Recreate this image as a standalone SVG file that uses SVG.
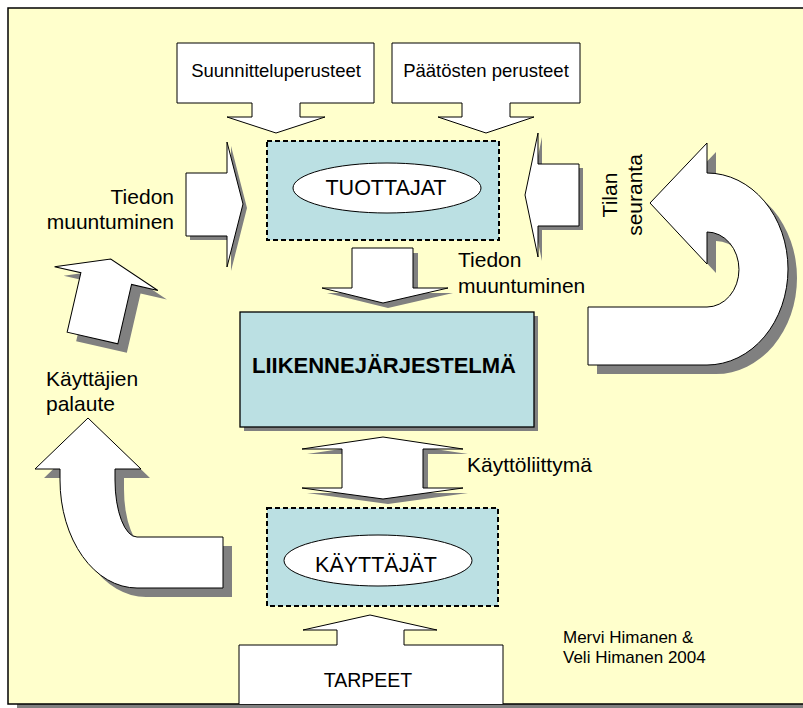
<svg xmlns="http://www.w3.org/2000/svg" width="803" height="708" viewBox="0 0 803 708">
<defs>
<style>
text{font-family:"Liberation Sans",Arial,Helvetica,sans-serif;fill:#000}
.sh{fill:#808080}
.wf{fill:#fff;stroke:#000;stroke-width:1;stroke-linejoin:miter}
.blue{fill:#BBE0E3;stroke:#000;stroke-width:1.3}
.dash{fill:#BBE0E3;stroke:#000;stroke-width:2;stroke-dasharray:5 3}
.ell{fill:#fff;stroke:#000;stroke-width:1}
.lbl{font-size:21px}
</style>
</defs>
<rect x="0" y="0" width="803" height="708" fill="#fff"/>
<g id="frame">
<rect x="17" y="17" width="800" height="697" class="sh"/>
<rect x="8" y="8" width="800" height="696" fill="#FFFFCC" stroke="#000" stroke-width="1.5"/>
</g>
<g id="connectors">
<g id="arrow-down-tuottajat">
<path class="sh" transform="translate(5,5)" d="M352 248 L413 248 L413 288 L448 288 L383 303 L322 288 L352 288 Z"/>
<path class="wf" d="M352 248 L413 248 L413 288 L448 288 L383 303 L322 288 L352 288 Z"/>
</g>
<g id="arrow-left-in">
<path class="sh" transform="translate(4,4)" d="M186 173 L227 173 L227 142 L243 204 L227 267 L227 236 L186 236 Z"/>
<path class="wf" d="M186 173 L227 173 L227 142 L243 204 L227 267 L227 236 L186 236 Z"/>
</g>
<g id="arrow-right-in">
<path class="sh" transform="translate(4,4)" d="M579 164 L538 164 L538 133 L525 195 L538 257 L538 226 L579 226 Z"/>
<path class="wf" d="M579 164 L538 164 L538 133 L525 195 L538 257 L538 226 L579 226 Z"/>
</g>
<g id="arrow-u-turn">
<path class="sh" transform="translate(9,9)" d="M650 203 L707 143 L707 173 A81 96 0 0 1 707 365 L588 365 L588 307 L707 307 A32 37.5 0 0 0 707 232 L707 264 Z"/>
<path class="wf" d="M650 203 L707 143 L707 173 A81 96 0 0 1 707 365 L588 365 L588 307 L707 307 A32 37.5 0 0 0 707 232 L707 264 Z"/>
</g>
<g id="arrow-tilted-up">
<path class="sh" transform="translate(101.5,347) rotate(13)" d="M-26 0 L-26 -61 L-53 -61 L0 -81 L53 -61 L26 -61 L26 0 Z"/>
<path class="wf" transform="translate(92.5,338) rotate(13)" d="M-26 0 L-26 -61 L-53 -61 L0 -81 L53 -61 L26 -61 L26 0 Z"/>
</g>
<g id="arrow-curved-up">
<path class="sh" transform="translate(9,9)" d="M88 418 L141 469 L115 469 L115 480 A22 57 0 0 0 137 537 L223 537 L223 588 L137 588 A77 108 0 0 1 60 480 L60 469 L35 469 Z"/>
<path class="wf" d="M88 418 L141 469 L115 469 L115 480 A22 57 0 0 0 137 537 L223 537 L223 588 L137 588 A77 108 0 0 1 60 480 L60 469 L35 469 Z"/>
</g>
<g id="arrow-double">
<path class="sh" transform="translate(5,5)" d="M383 437 L463 449 L423 449 L423 488 L463 488 L383 499 L302 488 L342 488 L342 449 L302 449 Z"/>
<path class="wf" d="M383 437 L463 449 L423 449 L423 488 L463 488 L383 499 L302 488 L342 488 L342 449 L302 449 Z"/>
</g>
</g>
<g id="suunnitteluperusteet">
<path class="wf" d="M177 43 L374 43 L374 103 L300 103 L300 117 L325 117 L276 133 L227 117 L252 117 L252 103 L177 103 Z"/>
<text x="276" y="77" font-size="18.5" text-anchor="middle">Suunnitteluperusteet</text>
</g>
<g id="paatosten-perusteet">
<path class="wf" d="M392 43 L580 43 L580 103 L510 103 L510 117 L534 117 L486 133 L438 117 L462 117 L462 103 L392 103 Z"/>
<text x="486" y="77" font-size="18.5" text-anchor="middle">Päätösten perusteet</text>
</g>
<g id="tuottajat">
<rect class="dash" x="267" y="141" width="232" height="99"/>
<ellipse class="ell" cx="387" cy="188" rx="94" ry="25"/>
<text x="386" y="195" font-size="21.5" text-anchor="middle">TUOTTAJAT</text>
</g>
<g id="label-tiedon-left">
<text class="lbl" text-anchor="end"><tspan x="174" y="204">Tiedon</tspan><tspan x="174" y="229">muuntuminen</tspan></text>
</g>
<g id="label-tiedon-center">
<text class="lbl"><tspan x="458" y="267">Tiedon</tspan><tspan x="458" y="293">muuntuminen</tspan></text>
</g>
<g id="label-tilan-seuranta">
<text class="lbl" text-anchor="middle" transform="translate(617,195) rotate(-90)"><tspan x="0" y="0">Tilan</tspan><tspan x="0" y="25">seuranta</tspan></text>
</g>
<g id="liikennejarjestelma">
<rect class="sh" x="244" y="316" width="294" height="115"/>
<rect class="blue" x="240" y="312" width="294" height="115"/>
<text x="384" y="373" font-size="22" font-weight="bold" text-anchor="middle">LIIKENNEJÄRJESTELMÄ</text>
</g>
<g id="label-kayttajien-palaute">
<text class="lbl"><tspan x="46" y="386">Käyttäjien</tspan><tspan x="46" y="411">palaute</tspan></text>
</g>
<g id="label-kayttoliittyma">
<text class="lbl" x="467" y="472">Käyttöliittymä</text>
</g>
<g id="kayttajat">
<rect class="dash" x="267" y="508" width="231" height="98"/>
<ellipse class="ell" cx="378" cy="560.5" rx="94" ry="25.5"/>
<text x="376" y="572" font-size="21.5" text-anchor="middle">KÄYTTÄJÄT</text>
</g>
<g id="tarpeet">
<path class="wf" d="M239 704 L239 645 L337 645 L337 630 L303 630 L370 615 L437 630 L404 630 L404 645 L503 645 L503 704"/>
<text x="368" y="687" font-size="19.5" text-anchor="middle">TARPEET</text>
</g>
<g id="credits">
<text font-size="17"><tspan x="563" y="642.5">Mervi Himanen &amp;</tspan><tspan x="563" y="663">Veli Himanen 2004</tspan></text>
</g>
</svg>
